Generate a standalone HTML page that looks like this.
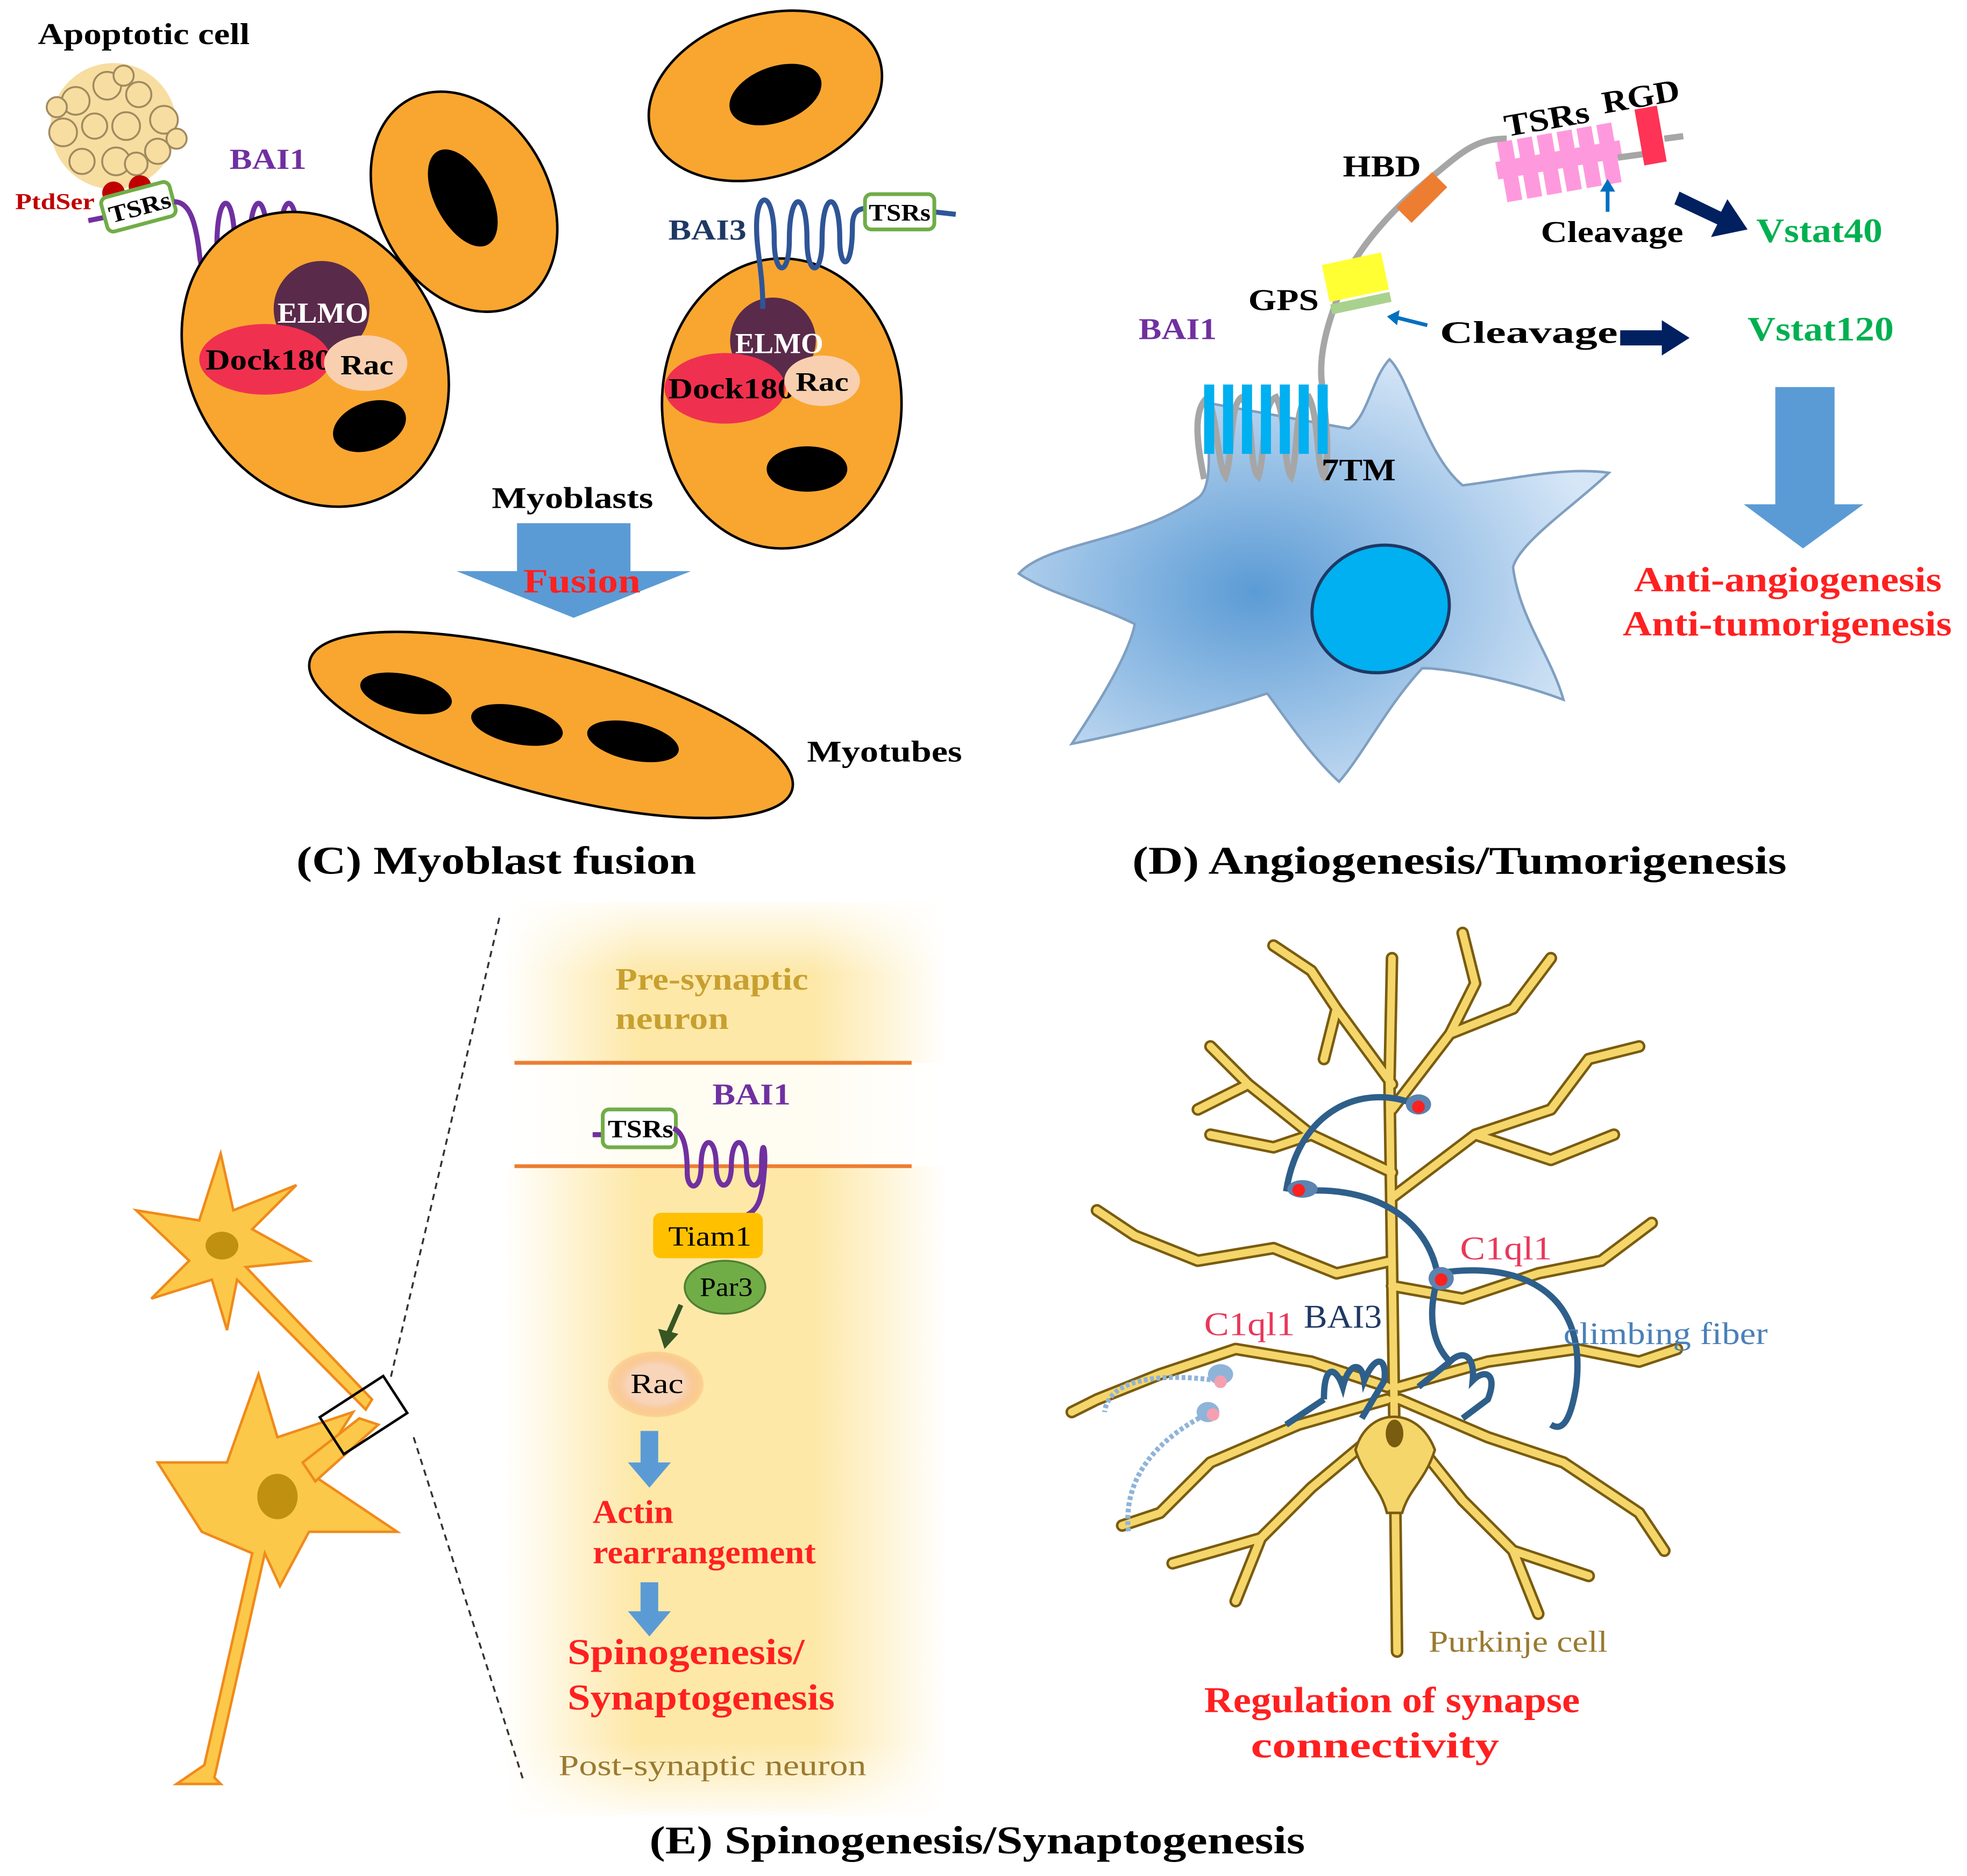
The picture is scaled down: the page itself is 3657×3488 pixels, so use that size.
<!DOCTYPE html>
<html><head><meta charset="utf-8"><style>
html,body{margin:0;padding:0;background:#fff;}
svg{display:block;}
text{font-family:"Liberation Serif",serif;font-weight:bold;}
</style></head><body>
<svg width="3657" height="3488" viewBox="0 0 1560 1488" xmlns="http://www.w3.org/2000/svg">
<defs>
<radialGradient id="cellg" cx="0.4" cy="0.55" r="0.6"><stop offset="0" stop-color="#5b9bd5"/><stop offset="1" stop-color="#d6e6f7"/></radialGradient>
<linearGradient id="panelE" x1="0" x2="1" y1="0" y2="0"><stop offset="0" stop-color="#fff"/><stop offset="0.3" stop-color="#fde8a8"/><stop offset="0.7" stop-color="#fde8a8"/><stop offset="1" stop-color="#fff"/></linearGradient>
<linearGradient id="panelEv" x1="0" x2="0" y1="0" y2="1"><stop offset="0" stop-color="#fff" stop-opacity="0.9"/><stop offset="0.08" stop-color="#fff" stop-opacity="0"/><stop offset="0.92" stop-color="#fff" stop-opacity="0"/><stop offset="1" stop-color="#fff" stop-opacity="0.9"/></linearGradient>
<radialGradient id="racg"><stop offset="0.6" stop-color="#f8d4b8"/><stop offset="1" stop-color="#f8a060" stop-opacity="0.3"/></radialGradient>
</defs>

<!-- ========== Panel C ========== -->
<text x="30" y="35" font-size="24" textLength="168" lengthAdjust="spacingAndGlyphs">Apoptotic cell</text>
<g fill="#f7dda0" stroke="#a08a60" stroke-width="1.5">
<circle cx="90" cy="100" r="50" stroke="none"/>
<circle cx="60" cy="80" r="11"/><circle cx="85" cy="68" r="11"/><circle cx="110" cy="75" r="10"/><circle cx="130" cy="95" r="11"/>
<circle cx="50" cy="105" r="11"/><circle cx="75" cy="100" r="10"/><circle cx="100" cy="100" r="11"/><circle cx="125" cy="120" r="10"/>
<circle cx="65" cy="128" r="10"/><circle cx="92" cy="128" r="11"/><circle cx="140" cy="110" r="8"/><circle cx="45" cy="85" r="8"/>
<circle cx="108" cy="130" r="9"/><circle cx="98" cy="60" r="8"/>
</g>
<circle cx="90" cy="153" r="9" fill="#c00000"/><circle cx="111" cy="148" r="9" fill="#c00000"/>
<text x="12" y="166" font-size="18" fill="#c00000" textLength="63" lengthAdjust="spacingAndGlyphs">PtdSer</text>
<path d="M70,175 L85,172" stroke="#7030a0" stroke-width="4"/>
<g transform="rotate(-15 110 165)"><rect x="82" y="150" width="56" height="28" rx="5" fill="#fff" stroke="#70ad47" stroke-width="3"/><text x="86" y="171" font-size="19" textLength="50" lengthAdjust="spacingAndGlyphs">TSRs</text></g>
<text x="182" y="134" font-size="23" fill="#7030a0" textLength="61" lengthAdjust="spacingAndGlyphs">BAI1</text>
<path d="M138,160 C150,160 155,175 158,200 C160,225 172,225 172,195 C172,150 186,150 186,195 C186,225 198,225 198,195 C198,150 212,150 212,195 C212,225 222,225 222,195 C222,150 236,150 236,195 C236,215 240,222 248,230" fill="none" stroke="#7030a0" stroke-width="4"/>

<ellipse cx="250" cy="285" rx="100" ry="122" transform="rotate(-30 250 285)" fill="#f9a630" stroke="#000" stroke-width="2"/>
<circle cx="255" cy="245" r="38" fill="#5a2a4a"/>
<ellipse cx="210" cy="285" rx="52" ry="28" fill="#f0304f"/>
<ellipse cx="290" cy="288" rx="33" ry="22" fill="#f8d0b0"/>
<text x="220" y="256" font-size="23" fill="#fff" textLength="72" lengthAdjust="spacingAndGlyphs">ELMO</text>
<text x="163" y="293" font-size="23" textLength="100" lengthAdjust="spacingAndGlyphs">Dock180</text>
<ellipse cx="290" cy="288" rx="33" ry="22" fill="#f8d0b0"/>
<text x="270" y="297" font-size="22" textLength="42" lengthAdjust="spacingAndGlyphs">Rac</text>
<ellipse cx="293" cy="338" rx="30" ry="19" transform="rotate(-20 293 338)" fill="#000"/>

<ellipse cx="368" cy="160" rx="68" ry="92" transform="rotate(-28 368 160)" fill="#f9a630" stroke="#000" stroke-width="2"/>
<ellipse cx="367" cy="157" rx="22" ry="42" transform="rotate(-28 367 157)" fill="#000"/>

<ellipse cx="607" cy="76" rx="95" ry="64" transform="rotate(-18 607 76)" fill="#f9a630" stroke="#000" stroke-width="2"/>
<ellipse cx="615" cy="75" rx="38" ry="22" transform="rotate(-20 615 75)" fill="#000"/>

<ellipse cx="620" cy="320" rx="95" ry="115" fill="#f9a630" stroke="#000" stroke-width="2"/>
<circle cx="613" cy="270" r="34" fill="#5a2a4a"/>
<ellipse cx="575" cy="308" rx="48" ry="28" fill="#f0304f"/>
<text x="583" y="280" font-size="23" fill="#fff" textLength="70" lengthAdjust="spacingAndGlyphs">ELMO</text>
<text x="530" y="316" font-size="23" textLength="100" lengthAdjust="spacingAndGlyphs">Dock180</text>
<ellipse cx="652" cy="302" rx="30" ry="20" fill="#f8d0b0"/>
<text x="631" y="310" font-size="21" textLength="42" lengthAdjust="spacingAndGlyphs">Rac</text>
<ellipse cx="640" cy="372" rx="32" ry="18" fill="#000"/>
<text x="530" y="190" font-size="23" fill="#1f3864" textLength="62" lengthAdjust="spacingAndGlyphs">BAI3</text>
<path d="M605,245 C605,215 600,200 600,180 C600,150 614,150 614,190 C614,220 626,220 626,190 C626,150 640,150 640,190 C640,220 652,220 652,190 C652,150 666,150 666,190 C666,215 676,215 676,180 C676,168 680,165 690,165" fill="none" stroke="#2f5597" stroke-width="4"/>
<path d="M740,168 L758,170" stroke="#2f5597" stroke-width="4"/>
<rect x="686" y="154" width="55" height="28" rx="5" fill="#fff" stroke="#70ad47" stroke-width="3"/>
<text x="689" y="175" font-size="19" textLength="49" lengthAdjust="spacingAndGlyphs">TSRs</text>

<text x="390" y="403" font-size="24" textLength="128" lengthAdjust="spacingAndGlyphs">Myoblasts</text>
<path d="M410,415 H500 V453 H548 L455,490 L362,453 H410 Z" fill="#5b9bd5"/>
<text x="415" y="470" font-size="27" fill="#ff2020" textLength="93" lengthAdjust="spacingAndGlyphs">Fusion</text>

<ellipse cx="437" cy="575" rx="198" ry="55" transform="rotate(15 437 575)" fill="#f9a630" stroke="#000" stroke-width="2"/>
<ellipse cx="322" cy="550" rx="37" ry="15" transform="rotate(12 322 550)" fill="#000"/>
<ellipse cx="410" cy="575" rx="37" ry="15" transform="rotate(12 410 575)" fill="#000"/>
<ellipse cx="502" cy="588" rx="37" ry="15" transform="rotate(12 502 588)" fill="#000"/>
<text x="640" y="604" font-size="24" textLength="123" lengthAdjust="spacingAndGlyphs">Myotubes</text>
<text x="235" y="693" font-size="31" textLength="317" lengthAdjust="spacingAndGlyphs">(C) Myoblast fusion</text>

<!-- ========== Panel D ========== -->
<path d="M808,455 C830,430 900,430 950,395 C965,385 955,340 960,320 L1070,340 C1085,330 1088,300 1102,285 C1118,300 1130,360 1160,385 C1200,380 1240,370 1276,375 C1250,400 1205,430 1200,450 C1205,490 1230,520 1240,555 C1200,540 1150,530 1128,530 C1100,560 1080,600 1062,620 C1040,600 1020,570 1005,550 C960,565 900,580 850,590 C870,560 895,520 900,495 C870,480 830,470 808,455 Z" fill="url(#cellg)" stroke="#7f9fc0" stroke-width="2"/>
<ellipse cx="1095" cy="483" rx="55" ry="50" transform="rotate(-20 1095 483)" fill="#00b0f0" stroke="#1f3864" stroke-width="2.5"/>
<path d="M955,380 C950,355 945,325 958,315 C965,330 966,370 972,378 C978,360 975,320 985,315 C995,330 990,370 998,378 C1004,360 1000,320 1012,315 C1020,330 1018,370 1024,378 C1030,360 1026,320 1038,315 C1046,330 1044,370 1050,378 C1056,360 1050,320 1048,300 C1046,270 1060,240 1065,225 C1075,200 1100,170 1130,145 C1160,120 1170,110 1195,110" fill="none" stroke="#a6a6a6" stroke-width="5"/>
<g fill="#00b0f0"><rect x="955" y="305" width="8" height="55"/><rect x="970" y="305" width="8" height="55"/><rect x="985" y="305" width="8" height="55"/><rect x="1000" y="305" width="8" height="55"/><rect x="1015" y="305" width="8" height="55"/><rect x="1030" y="305" width="8" height="55"/><rect x="1045" y="305" width="8" height="55"/></g>
<text x="1048" y="381" font-size="25" textLength="59" lengthAdjust="spacingAndGlyphs">7TM</text>
<text x="903" y="269" font-size="24" fill="#7030a0" textLength="62" lengthAdjust="spacingAndGlyphs">BAI1</text>
<g transform="rotate(-12 1075 225)"><rect x="1052" y="205" width="48" height="30" fill="#ffff33"/><rect x="1052" y="237" width="48" height="8" fill="#a9d18e"/></g>
<text x="990" y="246" font-size="24" textLength="56" lengthAdjust="spacingAndGlyphs">GPS</text>
<rect x="1108" y="148" width="40" height="17" transform="rotate(-45 1128 157)" fill="#ed7d31"/>
<text x="1065" y="140" font-size="24" textLength="62" lengthAdjust="spacingAndGlyphs">HBD</text>
<g fill="#ff99dd" transform="rotate(-10 1235 125)">
<rect x="1190" y="105" width="12" height="48"/><rect x="1206" y="105" width="12" height="48"/><rect x="1222" y="105" width="12" height="48"/><rect x="1238" y="105" width="12" height="48"/><rect x="1254" y="105" width="12" height="48"/><rect x="1270" y="105" width="12" height="48"/>
<rect x="1186" y="120" width="100" height="14"/></g>
<path d="M1283,125 L1305,122" stroke="#a6a6a6" stroke-width="5"/>
<rect x="1300" y="85" width="18" height="45" transform="rotate(-10 1309 107)" fill="#ff3355"/>
<path d="M1320,110 L1335,108" stroke="#a6a6a6" stroke-width="5"/>
<text x="1192" y="102" font-size="25" transform="rotate(-10 1230 90)" textLength="68" lengthAdjust="spacingAndGlyphs">TSRs</text>
<text x="1270" y="85" font-size="25" transform="rotate(-10 1300 75)" textLength="62" lengthAdjust="spacingAndGlyphs">RGD</text>
<path d="M1275,168 L1275,150" stroke="#0070c0" stroke-width="3"/><path d="M1269,152 L1275,142 L1281,152 Z" fill="#0070c0"/>
<text x="1222" y="192" font-size="24" textLength="113" lengthAdjust="spacingAndGlyphs">Cleavage</text>
<path d="M1332,152 L1365,168 L1370,158 L1386,182 L1357,188 L1362,178 L1328,162 Z" fill="#002060"/>
<text x="1393" y="192" font-size="27" fill="#00b050" textLength="100" lengthAdjust="spacingAndGlyphs">Vstat40</text>
<path d="M1132,258 L1108,252" stroke="#0070c0" stroke-width="3"/><path d="M1110,246 L1100,251 L1108,258 Z" fill="#0070c0"/>
<text x="1142" y="272" font-size="25" textLength="141" lengthAdjust="spacingAndGlyphs">Cleavage</text>
<path d="M1285,262 H1318 V254 L1340,268 L1318,282 V274 H1285 Z" fill="#002060"/>
<text x="1386" y="270" font-size="27" fill="#00b050" textLength="116" lengthAdjust="spacingAndGlyphs">Vstat120</text>
<path d="M1408,307 H1455 V400 H1478 L1430,435 L1383,400 H1408 Z" fill="#5b9bd5"/>
<text x="1296" y="469" font-size="28" fill="#ff2020" textLength="244" lengthAdjust="spacingAndGlyphs">Anti-angiogenesis</text>
<text x="1287" y="504" font-size="28" fill="#ff2020" textLength="261" lengthAdjust="spacingAndGlyphs">Anti-tumorigenesis</text>
<text x="898" y="693" font-size="31" textLength="519" lengthAdjust="spacingAndGlyphs">(D) Angiogenesis/Tumorigenesis</text>

<!-- ========== Panel E ========== -->
<rect x="400" y="715" width="350" height="725" fill="url(#panelE)"/>
<rect x="400" y="715" width="350" height="725" fill="url(#panelEv)"/>
<rect x="400" y="843" width="350" height="82" fill="#fff" opacity="0.85"/>
<text x="488" y="785" font-size="25" fill="#c8a030" textLength="153" lengthAdjust="spacingAndGlyphs">Pre-synaptic</text>
<text x="488" y="816" font-size="25" fill="#c8a030" textLength="90" lengthAdjust="spacingAndGlyphs">neuron</text>
<line x1="408" y1="843" x2="723" y2="843" stroke="#ed7d31" stroke-width="3"/>
<line x1="408" y1="925" x2="723" y2="925" stroke="#ed7d31" stroke-width="3"/>
<path d="M470,900 L480,900" stroke="#7030a0" stroke-width="4"/>
<rect x="478" y="880" width="58" height="30" rx="5" fill="#fff" stroke="#70ad47" stroke-width="3"/>
<text x="482" y="902" font-size="20" textLength="52" lengthAdjust="spacingAndGlyphs">TSRs</text>
<text x="565" y="876" font-size="24" fill="#7030a0" textLength="62" lengthAdjust="spacingAndGlyphs">BAI1</text>
<path d="M534,895 C542,898 545,910 545,930 C545,945 556,945 556,925 C556,900 568,900 568,925 C568,945 580,945 580,925 C580,900 592,900 592,925 C592,945 604,945 604,925 C604,900 608,910 606,930 C604,955 600,960 590,965" fill="none" stroke="#7030a0" stroke-width="4"/>
<rect x="518" y="962" width="87" height="36" rx="6" fill="#ffc000"/>
<text x="530" y="988" font-size="22" style="font-weight:normal" textLength="66" lengthAdjust="spacingAndGlyphs">Tiam1</text>
<ellipse cx="575" cy="1021" rx="32" ry="21" fill="#70ad47" stroke="#507e32" stroke-width="1.5"/>
<text x="555" y="1028" font-size="21" style="font-weight:normal" textLength="42" lengthAdjust="spacingAndGlyphs">Par3</text>
<path d="M540,1035 L530,1058" stroke="#375623" stroke-width="4"/><path d="M522,1054 L527,1070 L538,1058 Z" fill="#375623"/>
<ellipse cx="520" cy="1098" rx="38" ry="26" fill="url(#racg)"/>
<text x="500" y="1105" font-size="22" style="font-weight:normal" textLength="42" lengthAdjust="spacingAndGlyphs">Rac</text>
<path d="M508,1135 H522 V1160 H532 L515,1180 L498,1160 H508 Z" fill="#5b9bd5"/>
<text x="470" y="1208" font-size="26" fill="#ff2020" textLength="64" lengthAdjust="spacingAndGlyphs">Actin</text>
<text x="470" y="1240" font-size="26" fill="#ff2020" textLength="177" lengthAdjust="spacingAndGlyphs">rearrangement</text>
<path d="M508,1255 H522 V1278 H532 L515,1298 L498,1278 H508 Z" fill="#5b9bd5"/>
<text x="450" y="1320" font-size="29" fill="#ff2020" textLength="188" lengthAdjust="spacingAndGlyphs">Spinogenesis/</text>
<text x="450" y="1356" font-size="29" fill="#ff2020" textLength="212" lengthAdjust="spacingAndGlyphs">Synaptogenesis</text>
<text x="443" y="1408" font-size="23" fill="#9a7a30" style="font-weight:normal" textLength="244" lengthAdjust="spacingAndGlyphs">Post-synaptic neuron</text>
<line x1="396" y1="728" x2="310" y2="1092" stroke="#333" stroke-width="1.5" stroke-dasharray="5,4"/>
<line x1="328" y1="1140" x2="415" y2="1412" stroke="#333" stroke-width="1.5" stroke-dasharray="5,4"/>

<!-- neurons -->
<g fill="#fbc84a" stroke="#f08a1a" stroke-width="2">
<path d="M175,915 L185,960 L235,940 L200,975 L245,1000 L195,1005 L295,1110 L290,1118 L188,1015 L180,1055 L168,1015 L120,1030 L150,1000 L108,960 L158,968 Z"/>
<path d="M205,1090 L220,1140 L280,1120 L248,1170 L315,1215 L245,1215 L222,1258 L210,1232 L170,1410 L175,1415 L140,1415 L162,1400 L200,1232 L160,1215 L125,1160 L180,1160 Z"/>
<path d="M240,1160 L285,1125 L300,1130 L250,1175 Z"/>
</g>
<ellipse cx="176" cy="988" rx="13" ry="11" fill="#c09010"/>
<ellipse cx="220" cy="1187" rx="16" ry="18" fill="#c09010"/>
<rect x="258" y="1105" width="60" height="35" transform="rotate(-33 288 1122)" fill="none" stroke="#000" stroke-width="2"/>

<!-- Purkinje -->
<g fill="none" stroke-linecap="round" stroke-linejoin="round">
<g stroke="#7a5c10" stroke-width="10">
<path id="pk" d="M1108,1310 L1106,1140 L1104,1000 L1102,860 L1104,760 M1104,860 L1060,800 L1040,770 M1104,880 L1150,820 L1170,780 M1104,930 L1040,900 L990,860 L960,830 M1040,900 L1010,910 L960,900 M1104,950 L1170,900 L1230,880 L1260,840 M1170,900 L1230,920 L1280,900 M1104,1000 L1060,1010 L1010,990 L950,1000 L900,980 M1104,1020 L1160,1030 L1220,1010 L1270,1000 M1100,1100 L1040,1080 L980,1070 L920,1090 L870,1110 M1100,1110 L1030,1130 L960,1160 L920,1200 M1110,1100 L1180,1080 L1250,1070 L1300,1080 M1110,1110 L1180,1140 L1240,1160 L1300,1200 M1100,1130 L1040,1180 L1000,1220 L930,1240 M1112,1130 L1160,1190 L1200,1230 L1260,1250 M1000,1220 L980,1270 M1200,1230 L1220,1280 M1060,800 L1050,840 M1150,820 L1200,800 L1230,760 M990,860 L950,880 M1260,840 L1300,830 M1170,780 L1160,740 M1040,770 L1010,750 M900,980 L870,960 M1270,1000 L1310,970 M870,1110 L850,1120 M1300,1080 L1330,1070 M920,1200 L890,1210 M1300,1200 L1320,1230"/>
</g>
<g stroke="#f5d66b" stroke-width="6"><use href="#pk"/></g>
</g>
<path d="M1075,1150 C1085,1115 1125,1115 1138,1150 C1130,1175 1118,1180 1112,1200 L1100,1200 C1095,1180 1082,1172 1075,1150 Z" fill="#f5d66b" stroke="#7a5c10" stroke-width="2"/>
<ellipse cx="1106" cy="1137" rx="7" ry="11" fill="#7a5c10"/>
<!-- climbing fibers -->
<g fill="none" stroke="#2e5f8a" stroke-width="5">
<path d="M1020,945 C1030,880 1080,860 1120,875 M1030,945 C1080,940 1130,960 1140,1010 M1140,1010 C1200,1000 1260,1020 1250,1100 C1245,1130 1238,1135 1230,1130"/>
<path d="M1050,1110 C1050,1080 1060,1085 1065,1100 C1070,1080 1080,1080 1082,1095 C1090,1075 1100,1075 1098,1095 L1080,1125 M1050,1110 L1020,1130"/>
<path d="M1140,1015 C1130,1050 1140,1070 1150,1080 C1160,1070 1170,1075 1168,1095 C1178,1085 1188,1090 1180,1110 L1160,1125 M1150,1080 L1125,1100"/>
</g>
<ellipse cx="1033" cy="943" rx="12" ry="7" fill="#5b84b0"/><circle cx="1030" cy="944" r="5" fill="#ff2020"/>
<ellipse cx="1125" cy="876" rx="10" ry="8" fill="#5b84b0"/><circle cx="1125" cy="878" r="5" fill="#ff2020"/>
<ellipse cx="1143" cy="1014" rx="10" ry="9" fill="#5b84b0"/><circle cx="1143" cy="1015" r="5" fill="#ff2020"/>
<path d="M965,1095 C930,1090 880,1090 876,1120 M960,1120 C920,1140 890,1170 895,1215" stroke="#8fb4d9" stroke-width="4" stroke-dasharray="3,2" fill="none"/>
<ellipse cx="968" cy="1090" rx="10" ry="8" fill="#8fb4d9"/><circle cx="968" cy="1096" r="5" fill="#f4a0b0"/>
<ellipse cx="958" cy="1120" rx="9" ry="8" fill="#8fb4d9"/><circle cx="962" cy="1122" r="5" fill="#f4a0b0"/>
<text x="1158" y="999" font-size="26" fill="#e8385a" style="font-weight:normal" textLength="73" lengthAdjust="spacingAndGlyphs">C1ql1</text>
<text x="955" y="1059" font-size="26" fill="#e8385a" style="font-weight:normal" textLength="72" lengthAdjust="spacingAndGlyphs">C1ql1</text>
<text x="1034" y="1053" font-size="26" fill="#1f3864" style="font-weight:normal" textLength="62" lengthAdjust="spacingAndGlyphs">BAI3</text>
<text x="1240" y="1066" font-size="25" fill="#4a80b8" style="font-weight:normal" textLength="162" lengthAdjust="spacingAndGlyphs">climbing fiber</text>
<text x="1133" y="1310" font-size="24" fill="#9a7a30" style="font-weight:normal" textLength="142" lengthAdjust="spacingAndGlyphs">Purkinje cell</text>
<text x="955" y="1358" font-size="29" fill="#ff2020" textLength="298" lengthAdjust="spacingAndGlyphs">Regulation of synapse</text>
<text x="992" y="1394" font-size="29" fill="#ff2020" textLength="197" lengthAdjust="spacingAndGlyphs">connectivity</text>
<text x="515" y="1470" font-size="31" textLength="520" lengthAdjust="spacingAndGlyphs">(E) Spinogenesis/Synaptogenesis</text>
</svg>
</body></html>
